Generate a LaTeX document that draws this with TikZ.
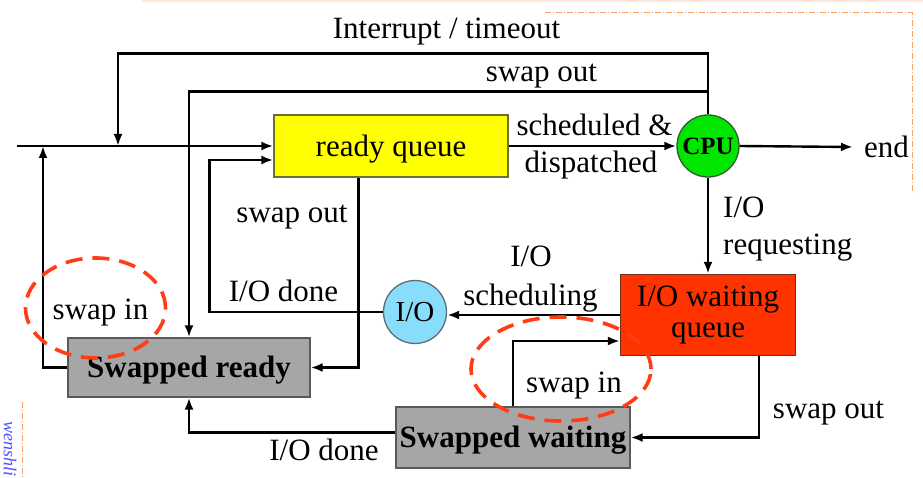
\documentclass[tikz,border=0pt]{standalone}
\usepackage{fontspec}
\setmainfont{Liberation Serif}
\usetikzlibrary{arrows.meta,calc}
\definecolor{rqyellow}{RGB}{255,255,0}
\definecolor{rqborder}{RGB}{110,110,50}
\definecolor{swgray}{RGB}{166,166,166}
\definecolor{swborder}{RGB}{90,90,90}
\definecolor{iowred}{RGB}{255,51,0}
\definecolor{iowborder}{RGB}{110,45,30}
\definecolor{ioblue}{RGB}{135,221,250}
\definecolor{ioborder}{RGB}{95,110,125}
\definecolor{cpugreen}{RGB}{0,230,0}
\definecolor{cpuborder}{RGB}{50,90,50}
\definecolor{dashred}{RGB}{255,60,20}
\definecolor{frameorange}{RGB}{250,160,100}
\definecolor{faintline}{RGB}{255,232,215}
\definecolor{markblue}{RGB}{80,80,255}
\begin{document}
\begin{tikzpicture}[x=1pt,y=-1pt,
  every node/.style={font=\fontsize{31}{31}\selectfont},
  conn/.style={line width=2.4pt},
  arr/.style={conn,-{Latex[length=12pt,width=9pt]}},
  boxnode/.style={draw,line width=1.3pt,inner sep=0pt},
  captext/.style={text height=20.5pt,text depth=0pt},
  lbl/.style={inner sep=0pt,text height=20.5pt,text depth=0pt},
  swapcircle/.style={draw=dashred,dash pattern=on 17pt off 10pt,line width=3.6pt},
  slideframe/.style={draw=frameorange,dash pattern=on 6pt off 2pt on 1pt off 2pt,line width=1pt}
]
\fill[white] (0,0) rectangle (923,478);
\useasboundingbox (0,0) rectangle (923,478);

% slide artefacts
\draw[faintline,line width=1.5pt] (142,0.8) -- (923,0.8);
\draw[slideframe] (545,13) -- (912,13) -- (912,193);
\draw[slideframe] (22,402) -- (22,478);
\node[font=\fontsize{18}{18}\selectfont\itshape,text=markblue,rotate=-90,anchor=west,inner sep=0pt] (mark) at (10,421) {wenshli};

% nodes
\node[boxnode,captext,draw=rqborder,fill=rqyellow,minimum width=234pt,minimum height=62pt] (rq) at (391,146) {ready queue};
\node[boxnode,circle,draw=cpuborder,fill=cpugreen,minimum size=62pt,font=\fontsize{25}{25}\selectfont\bfseries,text height=16.5pt,text depth=0pt] (cpu) at (708,146) {CPU};
\node[boxnode,draw=iowborder,fill=iowred,minimum width=175pt,minimum height=81pt,align=center] (iow) at (708,315) {I/O waiting\\queue};
\node[boxnode,circle,draw=ioborder,fill=ioblue,minimum size=63pt,font=\fontsize{29}{29}\selectfont,text height=19pt,text depth=0pt] (io) at (415,312) {I/O};
\node[boxnode,captext,draw=swborder,fill=swgray,minimum width=242pt,minimum height=59pt,font=\fontsize{31}{31}\selectfont\bfseries] (sr) at (189,367.5) {Swapped ready};
\node[boxnode,captext,draw=swborder,fill=swgray,minimum width=234pt,minimum height=61pt,font=\fontsize{31}{31}\selectfont\bfseries] (sw) at (513,437.5) {Swapped waiting};
\node[lbl,anchor=west,inner xsep=11pt] (endn) at (853,147) {end};

\coordinate (start) at (17,146);
\coordinate (j1) at (118,146);
\coordinate (j2) at (43,146);

% connectors
\draw[arr] (start) -- (rq.west);
\draw[arr] (cpu.north) -- ++(0,-61) -| (j1);
\draw[arr] (cpu.north) -- ++(0,-23) -| (sr.north);
\draw[arr] (rq.east) -- (cpu.west);
\draw[arr] (cpu.east) -- (endn.west);
\draw[arr] (cpu.south) -- (iow.north);
\draw[arr] (iow.west) -- (iow.west -| io.east);
\draw[arr] (io.west) -| ($(rq.west)+(-64,14)$) -- ($(rq.west)+(0,14)$);
\draw[arr] ($(rq.south west)+(85,0)$) |- (sr.east);
\draw[arr] (sr.west) -| (j2);
\draw[arr] (sw.north) |- ($(iow.west)+(0,26)$);
\draw[arr] ($(iow.south)+(51,0)$) |- (sw.east);
\draw[arr] ($(sw.west)+(0,-5)$) -| (sr.south);

% labels
\node[lbl] (l1) at (446.5,28) {Interrupt / timeout};
\node[lbl] (l2) at (541.5,71) {swap out};
\node[lbl] (l3) at (594.5,125) {scheduled \&};
\node[lbl] (l4) at (591,162) {dispatched};
\node[lbl,anchor=west] (l5) at (723,207) {I/O};
\node[lbl,anchor=west] (l6) at (723,244) {requesting};
\node[lbl] (l7) at (292,212) {swap out};
\node[lbl] (l8) at (283.5,291) {I/O done};
\node[lbl] (l9) at (100.5,309) {swap in};
\node[lbl] (l10) at (531,256) {I/O};
\node[lbl] (l11) at (530.5,295) {scheduling};
\node[lbl] (l12) at (574,382) {swap in};
\node[lbl] (l13) at (828.5,408) {swap out};
\node[lbl] (l14) at (324,450) {I/O done};

% dashed marks
\draw[swapcircle] (95.5,308) ellipse [x radius=70pt,y radius=50pt];
\draw[swapcircle] (561,369) ellipse [x radius=90pt,y radius=52pt];
\end{tikzpicture}
\end{document}
